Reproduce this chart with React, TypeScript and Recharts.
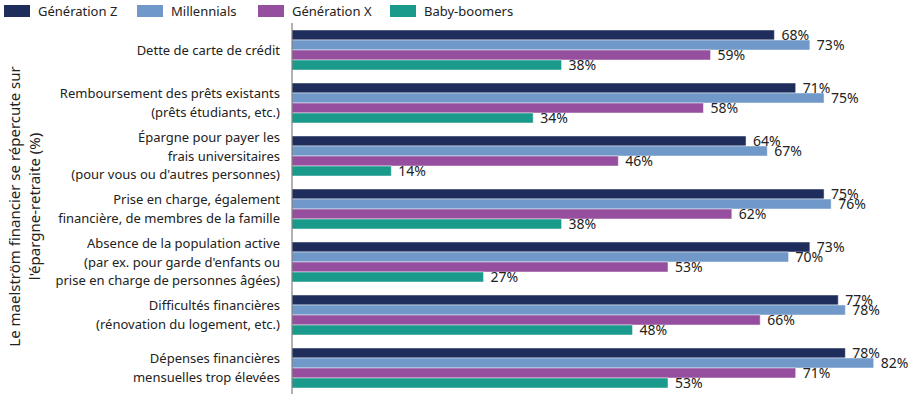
import React from 'react';
import { BarChart, Bar, XAxis, YAxis, LabelList, Label } from 'recharts';

const categories = [
  'Dette de carte de crédit',
  'Remboursement des prêts existants\n(prêts étudiants, etc.)',
  'Épargne pour payer les\nfrais universitaires\n(pour vous ou d\'autres personnes)',
  'Prise en charge, également\nfinancière, de membres de la famille',
  'Absence de la population active\n(par ex. pour garde d\'enfants ou\nprise en charge de personnes âgées)',
  'Difficultés financières\n(rénovation du logement, etc.)',
  'Dépenses financières\nmensuelles trop élevées',
];

const genZ = [68, 71, 64, 75, 73, 77, 78];
const millennials = [73, 75, 67, 76, 70, 78, 82];
const genX = [59, 58, 46, 62, 53, 66, 71];
const boomers = [38, 34, 14, 38, 27, 48, 53];

const axisTitle = ['Le maelström financier se répercute sur', "l'épargne-retraite (%)"];

const series = [
  { key: 'genZ', name: 'Génération Z', color: '#1f2d5c' },
  { key: 'millennials', name: 'Millennials', color: '#7098c8' },
  { key: 'genX', name: 'Génération X', color: '#954f9e' },
  { key: 'boomers', name: 'Baby-boomers', color: '#1a9a8a' },
];

const data = categories.map((category, i) => ({
  category,
  genZ: genZ[i],
  millennials: millennials[i],
  genX: genX[i],
  boomers: boomers[i],
}));

const FONT = '"Noto Sans", sans-serif';

function CategoryTick({ x, y, payload }: { x?: number; y?: number; payload?: { value: string } }) {
  const lines = (payload?.value ?? '').split('\n');
  const lineHeight = 18.5;
  const start = -((lines.length - 1) * lineHeight) / 2;
  return (
    <text x={x} y={y} textAnchor="end" fill="#222" fontSize={13} fontFamily={FONT}>
      {lines.map((line, i) => (
        <tspan key={i} x={x} dy={i === 0 ? start : lineHeight} dominantBaseline="central">
          {line}
        </tspan>
      ))}
    </text>
  );
}

function AxisTitle({ viewBox }: { viewBox?: { x: number; y: number; width: number; height: number } }) {
  if (!viewBox) return null;
  const cy = viewBox.y + viewBox.height / 2 - 2;
  const xs = [14, 34];
  return (
    <g>
      {axisTitle.map((t, i) => (
        <text
          key={i}
          x={xs[i]}
          y={cy}
          transform={`rotate(-90 ${xs[i]} ${cy})`}
          textAnchor="middle"
          dominantBaseline="central"
          fontSize={15}
          fill="#222"
          fontFamily={FONT}
        >
          {t}
        </text>
      ))}
    </g>
  );
}

function TopLegend() {
  const lefts = [4, 137, 258, 390];
  return (
    <div style={{ position: 'absolute', left: 0, top: 0, height: 20, width: 915 }}>
      {series.map((s, i) => (
        <div
          key={s.key}
          style={{
            position: 'absolute',
            left: lefts[i],
            top: 2,
            display: 'flex',
            alignItems: 'center',
            fontFamily: FONT,
            fontSize: 13,
            color: '#222',
          }}
        >
          <span style={{ display: 'inline-block', width: 26, height: 12, background: s.color, marginRight: 8 }} />
          {s.name}
        </div>
      ))}
    </div>
  );
}

export default function App() {
  return (
    <div style={{ position: 'absolute', left: 0, top: 0, width: 915, height: 400, background: '#fff' }}>
      <BarChart
        width={915}
        height={400}
        data={data}
        layout="vertical"
        margin={{ top: 23, right: 20, bottom: 6, left: 40 }}
        barGap={0}
      >
        <XAxis type="number" domain={[0, 85]} hide />
        <YAxis
          type="category"
          dataKey="category"
          width={252}
          tickLine={false}
          tickMargin={6}
          axisLine={{ stroke: '#666' }}
          tick={<CategoryTick />}
          interval={0}
        >
          <Label content={<AxisTitle />} />
        </YAxis>
        {series.map((s) => (
          <Bar
            key={s.key}
            dataKey={s.key}
            name={s.name}
            fill={s.color}
            barSize={10}
            stroke="#ffffff"
            strokeOpacity={0.6}
            strokeWidth={0.8}
            isAnimationActive={false}
          >
            <LabelList
              dataKey={s.key}
              position="right"
              offset={7}
              formatter={(v: number) => `${v}%`}
              style={{ fontSize: 14, fill: '#222', fontFamily: FONT }}
            />
          </Bar>
        ))}
      </BarChart>
      <TopLegend />
    </div>
  );
}
